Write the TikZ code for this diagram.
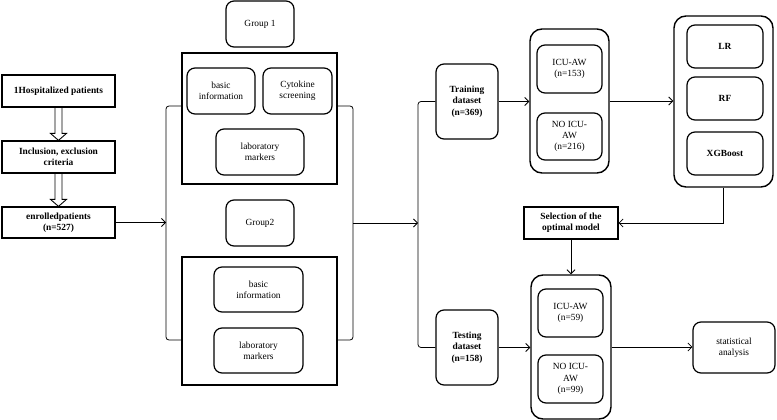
\documentclass[tikz,border=0pt]{standalone}
\usepackage{fontspec}
\setmainfont{Liberation Serif}
\usetikzlibrary{arrows.meta,calc}
\begin{document}
\begin{tikzpicture}[x=1pt,y=-1pt,
  font=\fontsize{9.4}{11.3}\selectfont,
  base/.style={draw=black,line width=1.2pt,align=center,inner sep=1pt,text=black},
  sqbox/.style={base,font=\fontsize{9.4}{11.3}\selectfont\bfseries},
  rbox/.style={base,rounded corners=8pt},
  rboxb/.style={rbox,font=\fontsize{9.4}{11.3}\selectfont\bfseries},
  frame/.style={draw=black,line width=1.2pt},
  outer/.style={draw=black,line width=1.4pt,rounded corners=12pt},
  conn/.style={line width=0.8pt,draw=black},
  arr/.style={conn,-{Straight Barb[length=4pt,width=8pt]}},
  bracket/.style={conn,rounded corners=3pt},
  blockarr/.style={line width=0.9pt,draw=black,line join=miter}
]
\useasboundingbox (0,0) rectangle (777,420);

% left column
\node[sqbox,minimum width=113pt,minimum height=32pt] (h1) at (58.5,91) {1Hospitalized patients};
\node[sqbox,minimum width=113pt,minimum height=32pt] (inc) at (58.5,157) {Inclusion, exclusion\\criteria};
\node[sqbox,minimum width=113pt,minimum height=31pt] (enr) at (58.5,222.5) {enrolledpatients\\(n=527)};

% block arrows
\foreach \a/\b in {h1/inc,inc/enr}{
  \draw[blockarr] ($(\a.south)+(-3.5,0)$) -- ($(\b.north)+(-3.5,-7)$) -- ($(\b.north)+(-8,-7)$)
    -- (\b.north) -- ($(\b.north)+(8,-7)$) -- ($(\b.north)+(3.5,-7)$) -- ($(\a.south)+(3.5,0)$);
}

% middle groups
\node[rbox,minimum width=68pt,minimum height=46pt] (g1) at (260,24) {Group 1};
\node[frame,minimum width=155pt,minimum height=131pt,inner sep=0pt] (g1box) at (259.5,118.5) {};
\node[rbox,minimum width=68pt,minimum height=46pt] (bi1) at (221,91) {basic\\information};
\node[rbox,minimum width=69pt,minimum height=46pt] (cs) at (297.5,91) {Cytokine\\screening};
\node[rbox,minimum width=88pt,minimum height=46pt] (lm1) at (260,152) {laboratory\\markers};

\node[rbox,minimum width=68pt,minimum height=46pt] (g2) at (260,223) {Group2};
\node[frame,minimum width=155pt,minimum height=128pt,inner sep=0pt] (g2box) at (259.5,321) {};
\node[rbox,minimum width=89pt,minimum height=45pt] (bi2) at (258.5,289.5) {basic\\information};
\node[rbox,minimum width=89pt,minimum height=45pt] (lm2) at (258.5,350.5) {laboratory\\markers};

% brackets around groups
\coordinate (lb) at (166,222.5);
\coordinate (rb) at (353,223);
\draw[bracket] (g1box.west |- 0,106) -- (166,106) -- (166,340) -- (g2box.west |- 0,340);
\draw[bracket] (g1box.east |- 0,106) -- (353,106) -- (353,340) -- (g2box.east |- 0,340);
\draw[arr] (enr.east) -- (lb);

% right part
\node[rboxb,minimum width=62pt,minimum height=75pt] (tr) at (467,101.5) {Training\\dataset\\(n=369)};
\node[rboxb,minimum width=62pt,minimum height=75pt] (te) at (467,347.5) {Testing\\dataset\\(n=158)};
\coordinate (tb) at (418,223);
\draw[bracket] (tr.west) -- (418,101.5) -- (418,347.5) -- (te.west);
\draw[arr] (rb) -- (tb);

\node[outer,minimum width=79pt,minimum height=144pt,inner sep=0pt] (o1) at (569.5,101) {};
\node[rbox,minimum width=65pt,minimum height=48pt] (icu1) at (569.5,69) {ICU-AW\\(n=153)};
\node[rbox,minimum width=65pt,minimum height=47pt] (no1) at (569.5,136.5) {NO ICU-\\AW\\(n=216)};

\node[outer,minimum width=99pt,minimum height=171pt,inner sep=0pt] (mod) at (723.5,101.5) {};
\node[rboxb,minimum width=76pt,minimum height=43pt] (lr) at (725,46.5) {LR};
\node[rboxb,minimum width=76pt,minimum height=43pt] (rf) at (725,98.5) {RF};
\node[rboxb,minimum width=76pt,minimum height=43pt] (xg) at (725,153.5) {XGBoost};

\node[sqbox,minimum width=94pt,minimum height=32pt] (sel) at (571,223) {Selection of the\\optimal model};

\node[outer,minimum width=80pt,minimum height=144pt,inner sep=0pt] (o2) at (571,347) {};
\node[rbox,minimum width=65pt,minimum height=48pt] (icu2) at (570.5,313) {ICU-AW\\(n=59)};
\node[rbox,minimum width=65pt,minimum height=48pt] (no2) at (570.5,379) {NO ICU-\\AW\\(n=99)};

\node[rbox,minimum width=82pt,minimum height=51pt] (st) at (734,347.5) {statistical\\analysis};

\draw[arr] (tr.east) -- (tr.east -| o1.west);
\draw[arr] (o1.east) -- (o1.east -| mod.west);
\draw[arr] (mod.south) |- (sel.east);
\draw[arr] (sel.south) -- (o2.north);
\draw[arr] (te.east) -- (te.east -| o2.west);
\draw[arr] (o2.east) -- (o2.east -| st.west);
\end{tikzpicture}
\end{document}
